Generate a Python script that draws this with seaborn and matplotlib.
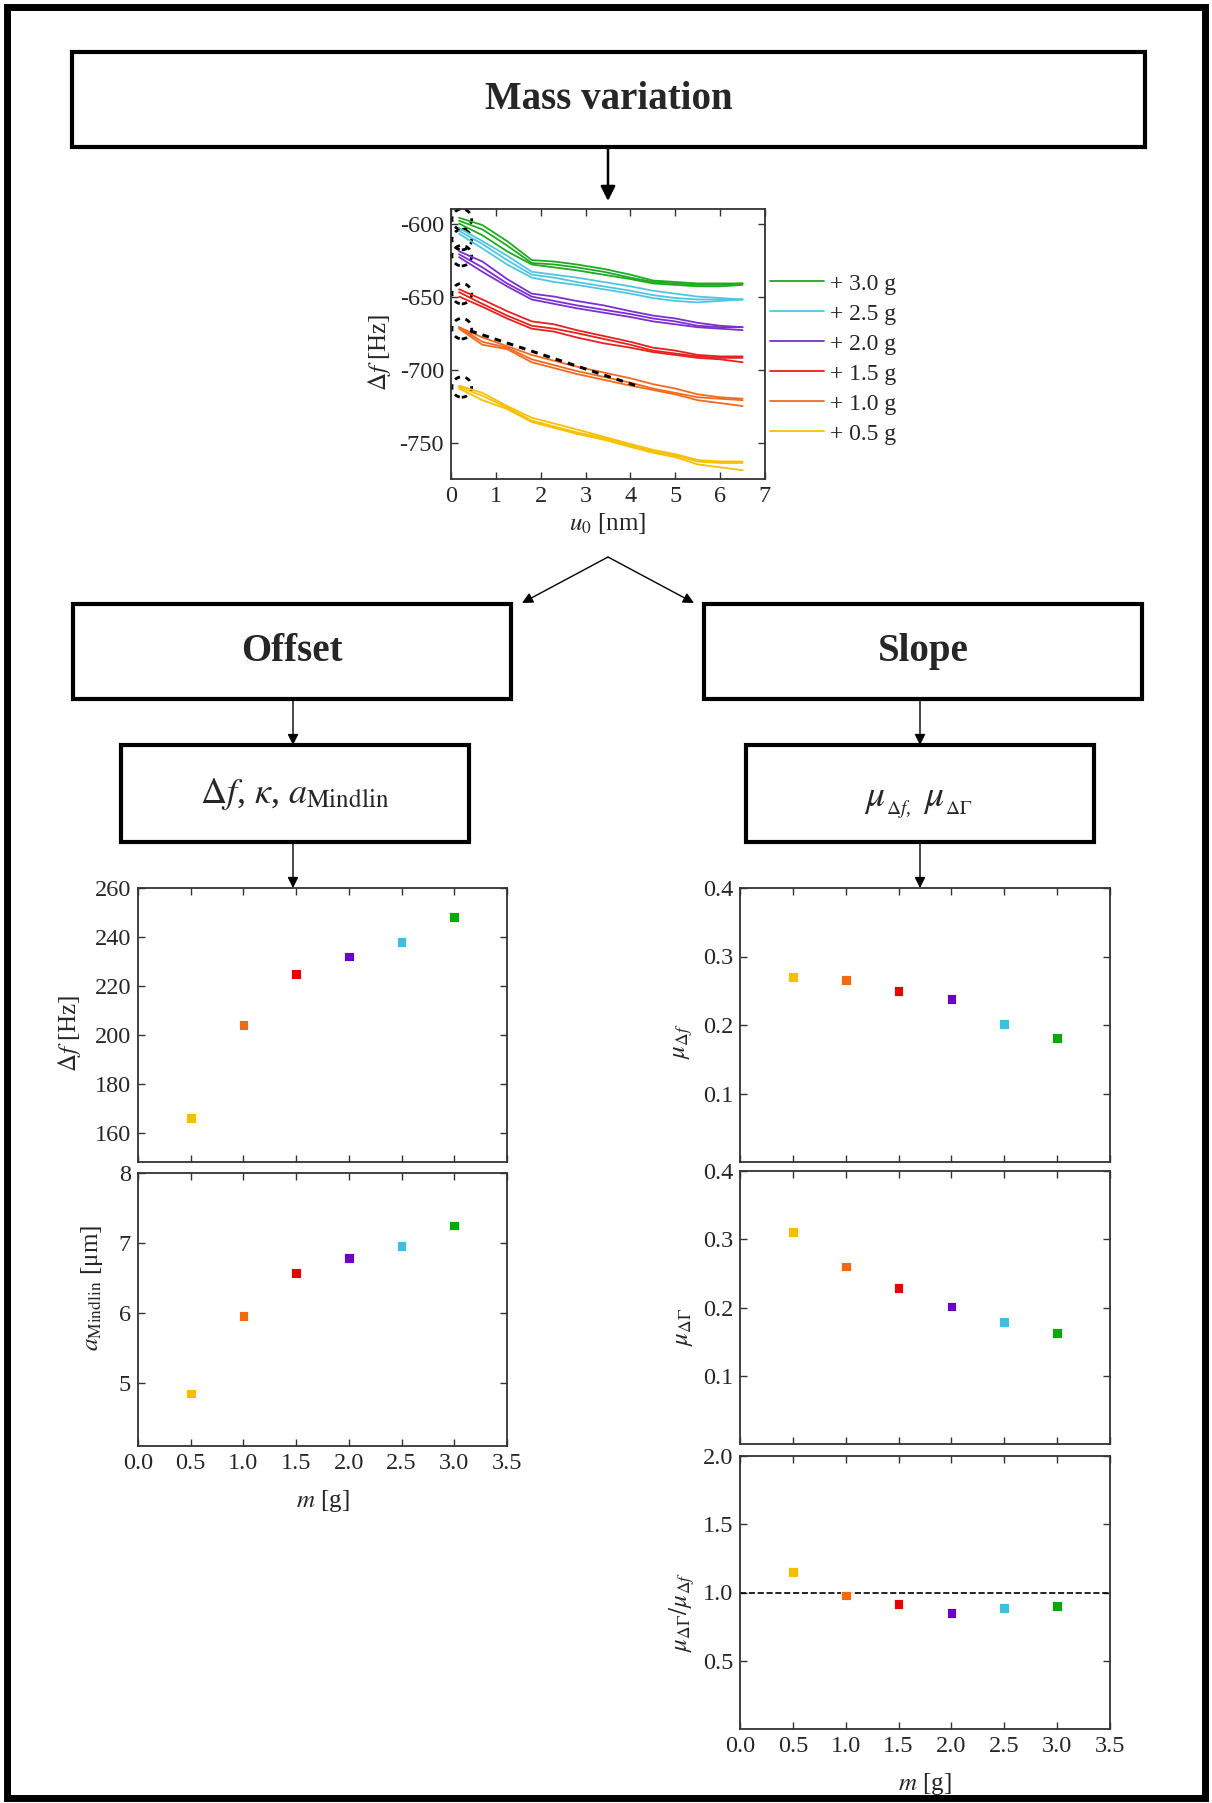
import numpy as np
import pandas as pd
import matplotlib.pyplot as plt
import seaborn as sns
from matplotlib.patches import Rectangle, Ellipse
from matplotlib.ticker import FormatStrFormatter

sns.set_style('ticks')
plt.rcParams['font.family'] = ['Liberation Serif', 'STIXGeneral', 'DejaVu Serif']
plt.rcParams['mathtext.fontset'] = 'stix'
plt.rcParams['axes.unicode_minus'] = False

# ---- data ----
mass = [0.5, 1.0, 1.5, 2.0, 2.5, 3.0]
mass_labels = ['+ 0.5 g', '+ 1.0 g', '+ 1.5 g', '+ 2.0 g', '+ 2.5 g', '+ 3.0 g']
colors = ['#F5BF00', '#F26A10', '#E60000', '#6A00C8', '#40BFDD', '#00AA00']
line_colors = ['#F7C000', '#F26A20', '#E82020', '#7A30D0', '#50C5E0', '#20AA20']

# frequency shift vs amplitude, three sweeps per mass
u0 = [0.18, 0.7, 1.25, 1.8, 2.3, 2.8, 3.4, 4.0, 4.5, 5.0, 5.5, 6.0, 6.5]
f_05 = [[-711, -716, -725, -733, -737, -741, -746, -751, -755, -758, -762, -763, -763],
        [-712, -718, -726, -735, -739, -743, -747, -752, -756, -759, -763, -764, -764],
        [-713, -721, -727, -736, -740, -744, -748, -753, -757, -760, -765, -767, -769]]
f_10 = [[-671, -678, -684, -690, -694, -698, -702, -706, -710, -713, -717, -719, -720],
        [-671, -681, -685, -693, -697, -701, -705, -709, -713, -716, -719, -720, -721],
        [-672, -683, -686, -695, -699, -703, -707, -711, -714, -717, -721, -723, -725]]
f_15 = [[-645, -652, -660, -667, -669, -673, -677, -681, -685, -687, -690, -691, -691],
        [-647, -655, -663, -670, -672, -675, -679, -683, -687, -689, -691, -692, -692],
        [-650, -657, -665, -672, -674, -678, -682, -685, -688, -690, -692, -693, -695]]
f_20 = [[-619, -626, -638, -648, -650, -653, -656, -660, -663, -665, -668, -670, -671],
        [-621, -630, -641, -650, -653, -656, -659, -662, -665, -667, -670, -671, -671],
        [-623, -633, -643, -652, -655, -658, -661, -664, -667, -669, -671, -672, -673]]
f_25 = [[-603, -612, -622, -633, -635, -637, -640, -643, -646, -648, -650, -651, -652],
        [-605, -614, -625, -635, -637, -640, -643, -646, -649, -651, -652, -652, -652],
        [-607, -617, -628, -637, -640, -642, -645, -648, -651, -653, -654, -653, -652]]
f_30 = [[-596, -601, -612, -625, -626, -628, -631, -635, -639, -640, -641, -641, -641],
        [-598, -604, -615, -627, -628, -630, -633, -637, -640, -641, -642, -642, -641],
        [-600, -608, -619, -628, -630, -632, -635, -638, -641, -642, -643, -643, -642]]

# dashed slope guide and start-point ellipses
slope_u = [0.43, 4.22]
slope_f = [-673.5, -712]
ell_f = [-712, -672, -648, -622, -611, -597]

# extracted parameters
df_offset = [166, 204, 225, 232, 238, 248]
a_mindlin = [4.85, 5.96, 6.57, 6.78, 6.96, 7.25]
mu_df = [0.270, 0.266, 0.250, 0.238, 0.202, 0.181]
mu_dg = [0.311, 0.260, 0.229, 0.2015, 0.179, 0.163]
mu_ratio = [1.15, 0.978, 0.917, 0.849, 0.888, 0.902]

# ---- figure ----
W, H = 1212, 1803
fig = plt.figure(figsize=(W / 100, H / 100), dpi=100)

# overlay for flowchart frames and arrows (pixel coordinates)
ov = fig.add_axes([0, 0, 1, 1])
ov.set_xlim(0, W)
ov.set_ylim(H, 0)
ov.axis('off')


def box(l, t, r, b, text='', size=28, bold=False):
    ov.add_patch(Rectangle((l, t), r - l, b - t, fill=False, lw=3, ec='k'))
    if text:
        ov.text((l + r) / 2, (t + b) / 2, text, ha='center', va='center', fontsize=size,
                fontweight='bold' if bold else 'normal')


def arrow(x0, y0, x1, y1, lw=1.0, ms=16):
    ov.annotate('', xy=(x1, y1), xytext=(x0, y0),
                arrowprops=dict(arrowstyle='-|>', lw=lw, color='k', mutation_scale=ms,
                                shrinkA=0, shrinkB=0))


ov.add_patch(Rectangle((7, 7), W - 14, H - 12, fill=False, lw=5, ec='k'))
box(72, 52, 1145, 147, 'Mass variation', 28, bold=True)
box(73, 604, 511, 699, 'Offset', 28, bold=True)
box(704, 604, 1142, 699, 'Slope', 28, bold=True)
box(121, 745, 469, 842, r'$\Delta f$, $\kappa$, $a_{\mathrm{Mindlin}}$', 26)
box(746, 745, 1094, 842)
# mu symbols with small subscripts, as in the original
ov.text(864, 806, r'$\mu$', fontsize=27, va='baseline')
ov.text(886, 814, r'$\Delta f$,', fontsize=14, va='baseline')
ov.text(923, 806, r'$\mu$', fontsize=27, va='baseline')
ov.text(945, 814, r'$\Delta\Gamma$', fontsize=14, va='baseline')
arrow(608, 147, 608, 201, lw=1.8, ms=22)
arrow(608, 557, 522, 603)
arrow(608, 557, 694, 603)
arrow(293, 699, 293, 745)
arrow(920, 699, 920, 745)
arrow(293, 842, 293, 888)
arrow(920, 842, 920, 888)


def place(l, t, r, b):
    return fig.add_axes([l / W, 1 - b / H, (r - l) / W, (b - t) / H])


def style(ax):
    ax.tick_params(direction='in', top=True, right=True, length=5, width=1,
                   labelsize=17.5, pad=5, color='#333333')
    for s in ax.spines.values():
        s.set_linewidth(1.3)
        s.set_color('#333333')


# ---- top: sweeps ----
rows = []
for lab, runs in zip(mass_labels, [f_05, f_10, f_15, f_20, f_25, f_30]):
    for k, run in enumerate(runs):
        for u, f in zip(u0, run):
            rows.append((u, f, lab, f'{lab}-{k}'))
sweep = pd.DataFrame(rows, columns=['u0', 'df', 'mass', 'run'])

ax_top = place(451, 209, 765, 479)
sns.lineplot(data=sweep, x='u0', y='df', hue='mass', units='run', estimator=None,
             palette=dict(zip(mass_labels, line_colors)), hue_order=mass_labels[::-1],
             lw=1.3, sort=False, ax=ax_top)
ax_top.plot(slope_u, slope_f, 'k--', lw=2.2, dashes=(2.2, 2))
for fv in ell_f:
    ax_top.add_patch(Ellipse((0.24, fv), 0.44, 14, fill=False, ls=(0, (2, 2)),
                             lw=2, ec='k', clip_on=False))
ax_top.set_xlim(0, 7)
ax_top.set_ylim(-775, -590)
ax_top.set_xticks(range(8))
ax_top.set_yticks([-600, -650, -700, -750])
style(ax_top)
ax_top.set_xlabel(r'$u_0$ [nm]', fontsize=18, labelpad=3)
ax_top.set_ylabel(r'$\Delta f$ [Hz]', fontsize=18)
ax_top.yaxis.set_label_coords(-0.185, 0.47)
sns.move_legend(ax_top, 'upper left', bbox_to_anchor=(1.016, 0.763), frameon=False,
                title=None, fontsize=17, handlelength=2.3, handletextpad=0.25,
                labelspacing=0.36, borderaxespad=0, borderpad=0)
for line in ax_top.get_legend().get_lines():
    line.set_linewidth(1.3)

# ---- parameter panels ----
pts = pd.DataFrame({'m': mass, 'label': mass_labels, 'df': df_offset, 'a': a_mindlin,
                    'mu_df': mu_df, 'mu_dg': mu_dg, 'ratio': mu_ratio})
pal = dict(zip(mass_labels, colors))


def panel(l, t, r, b, col, ylim, yticks, ylabel, fmt, label_x, label_y, bottom=False):
    ax = place(l, t, r, b)
    sns.scatterplot(data=pts, x='m', y=col, hue='label', palette=pal, marker='s', s=50,
                    edgecolor='white', linewidth=0.6, legend=False, ax=ax, zorder=3)
    ax.set_xlim(0, 3.5)
    ax.set_ylim(*ylim)
    ax.set_xticks(np.arange(0, 3.51, 0.5))
    ax.set_yticks(yticks)
    ax.yaxis.set_major_formatter(FormatStrFormatter(fmt))
    ax.xaxis.set_major_formatter(FormatStrFormatter('%.1f'))
    style(ax)
    ax.set_ylabel(ylabel, fontsize=18)
    ax.yaxis.set_label_coords(label_x, label_y)
    if bottom:
        ax.set_xlabel(r'$m$ [g]', fontsize=18, labelpad=10)
    else:
        ax.tick_params(labelbottom=False)
        ax.set_xlabel('')
    return ax


panel(138, 888, 507, 1162, 'df', (148, 260), range(160, 261, 20), r'$\Delta f$ [Hz]',
      '%d', -0.15, 0.47)
panel(138, 1173, 507, 1446, 'a', (4.1, 8), [5, 6, 7, 8],
      r'$a_{\mathrm{Mindlin}}$ [μm]', '%d', -0.09, 0.58, bottom=True)
panel(740, 888, 1110, 1162, 'mu_df', (0, 0.4), [0.1, 0.2, 0.3, 0.4],
      r'$\mu_{\Delta f}$', '%.1f', -0.122, 0.44)
panel(740, 1171, 1110, 1444, 'mu_dg', (0, 0.4), [0.1, 0.2, 0.3, 0.4],
      r'$\mu_{\Delta\Gamma}$', '%.1f', -0.122, 0.43)
ax_r = panel(740, 1456, 1110, 1729, 'ratio', (0, 2), [0.5, 1.0, 1.5, 2.0],
             r'$\mu_{\Delta\Gamma}/\mu_{\Delta f}$', '%.1f', -0.116, 0.43, bottom=True)
ax_r.axhline(1.0, color='k', ls='--', lw=1.2, zorder=1)

fig.savefig('out.png', dpi=100)
